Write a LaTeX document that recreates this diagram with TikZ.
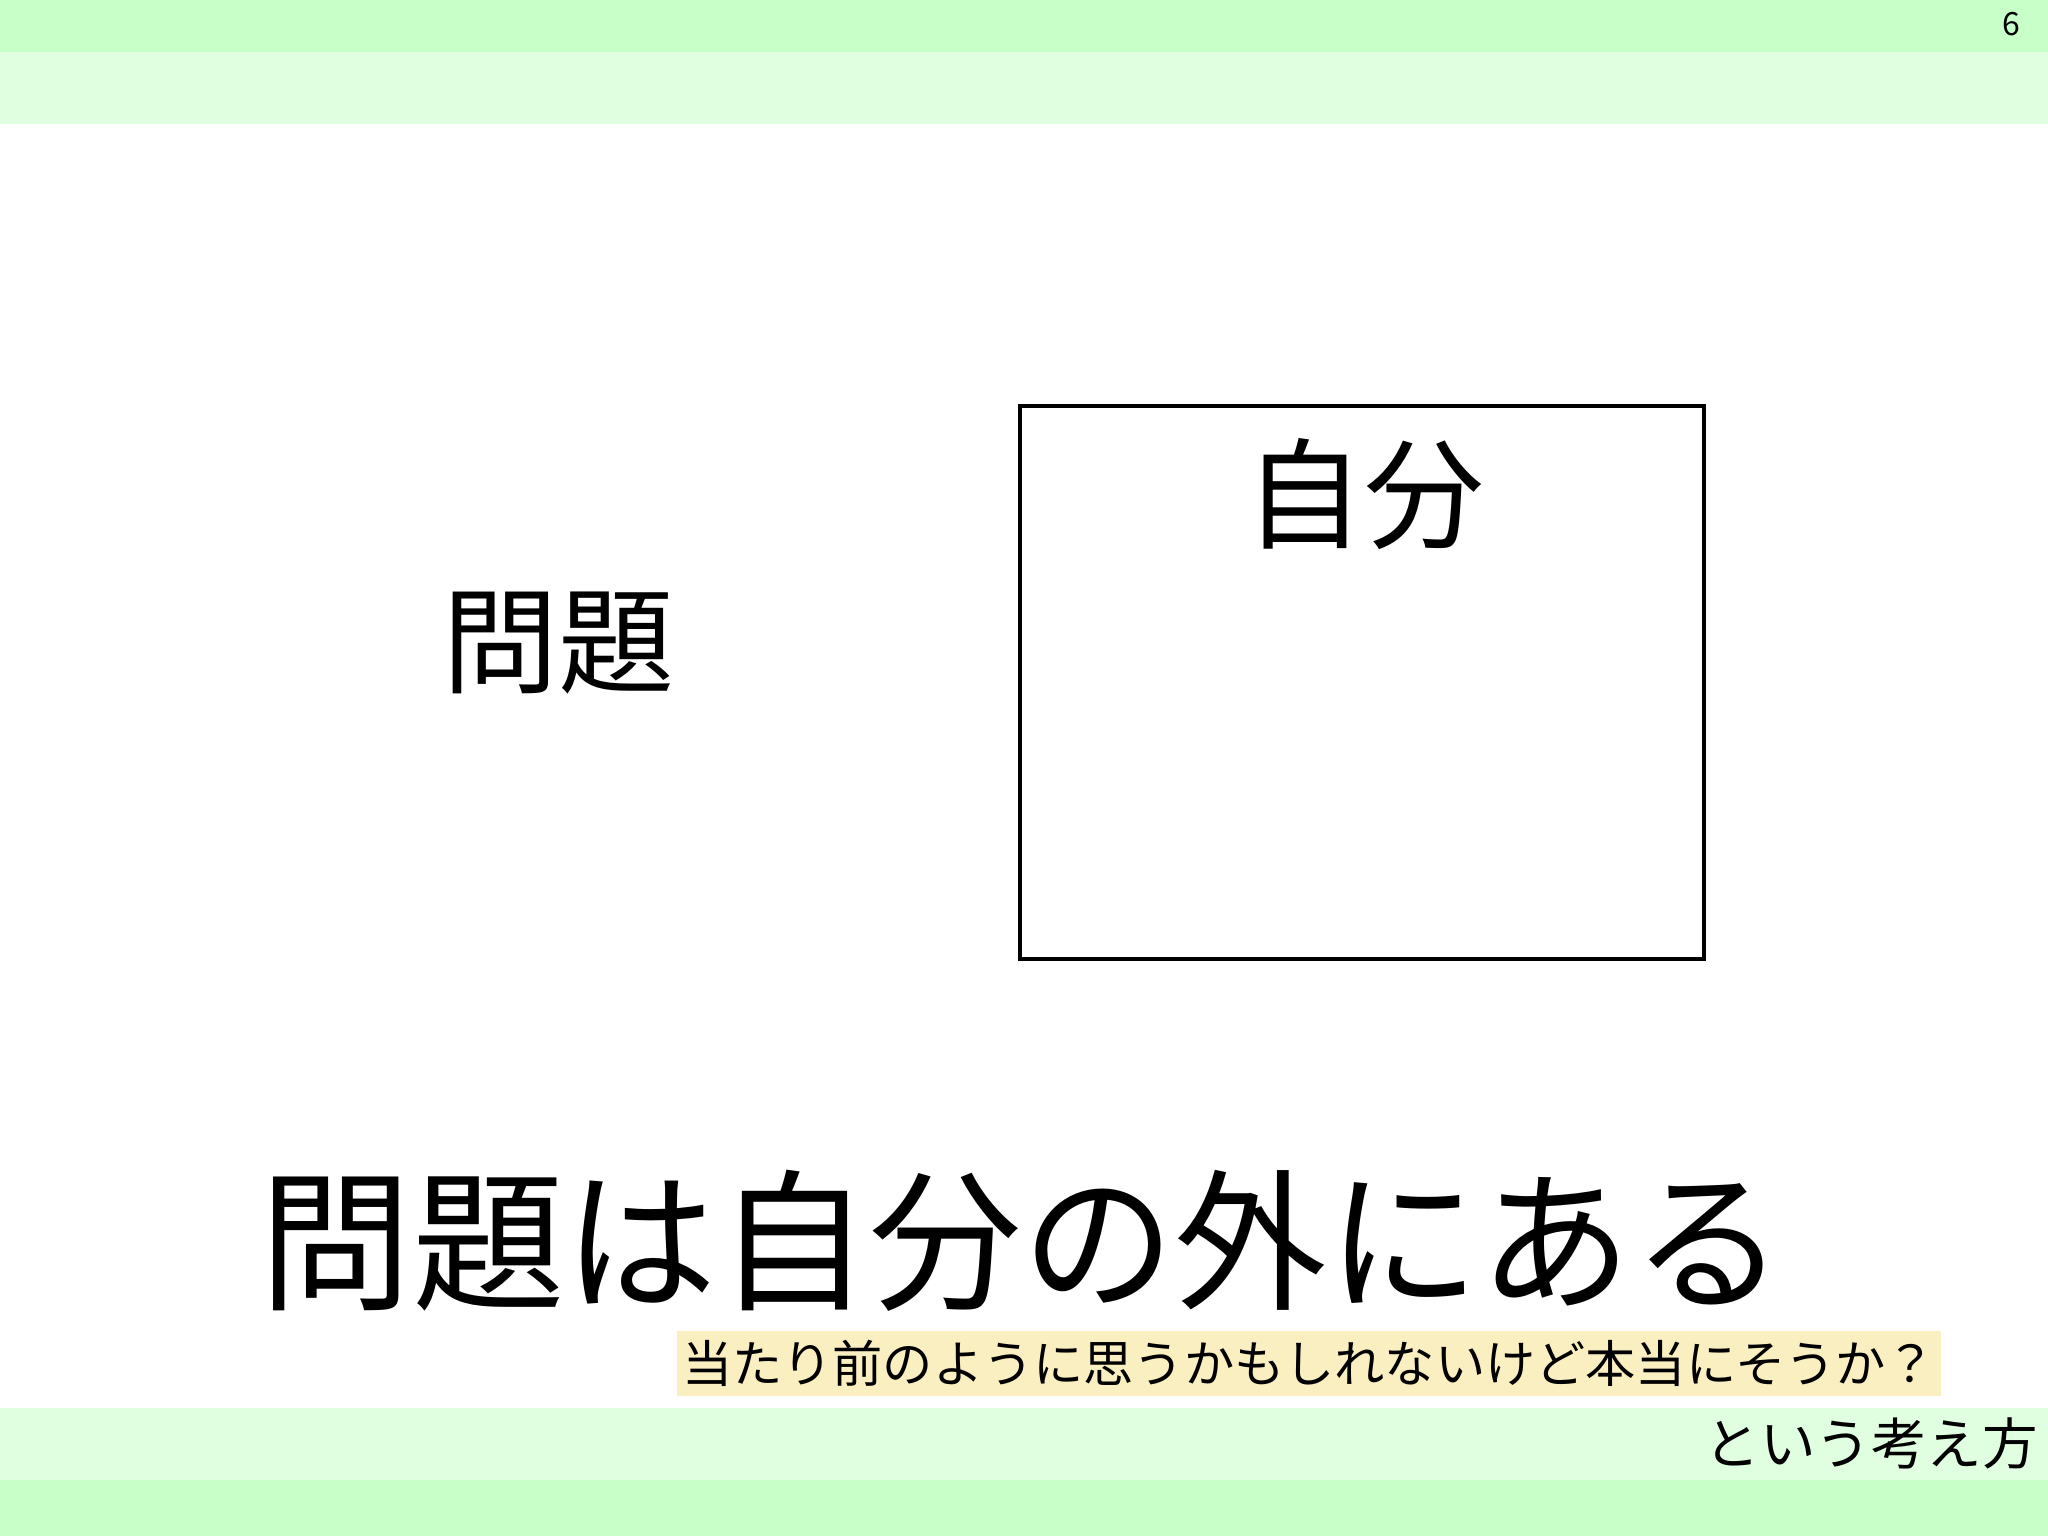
\documentclass[tikz,border=0pt]{standalone}
\usepackage{fontspec}
\setmainfont{Noto Sans CJK JP}
\definecolor{banddark}{HTML}{C8FFC8}
\definecolor{bandlight}{HTML}{E0FFE0}
\definecolor{hl}{HTML}{F9EFC0}
\begin{document}
\begin{tikzpicture}[x=1pt,y=-1pt,
  txt/.style={inner sep=0pt, anchor=center, text=black}]
\useasboundingbox (0,0) rectangle (2048,1536);
\fill[banddark] (0,0) rectangle (2048,52);
\fill[bandlight] (0,52) rectangle (2048,124);
\fill[bandlight] (0,1408) rectangle (2048,1480);
\fill[banddark] (0,1480) rectangle (2048,1536);
\node[txt, font=\fontsize{32pt}{32pt}\selectfont] (page) at (2011,24) {6};
\node[draw=black, line width=4.5pt, minimum width=684pt, minimum height=553pt, inner sep=0pt] (selfbox) at (1362,682.5) {};
\node[txt, font=\fontsize{120pt}{120pt}\selectfont] (jibun) at (1364,494) {自分};
\node[txt, font=\fontsize{116pt}{116pt}\selectfont] (mondai) at (558,643) {問題};
\node[txt, font=\fontsize{152.5pt}{152.5pt}\selectfont] (main) at (1022,1241) {問題は自分の外にある};
\node[fill=hl, minimum width=1264pt, minimum height=65pt, inner sep=0pt, font=\fontsize{50.2pt}{50.2pt}\selectfont] (note) at (1309,1363.5) {当たり前のように思うかもしれないけど本当にそうか？};
\node[txt, anchor=east, font=\fontsize{55.5pt}{55.5pt}\selectfont] (tail) at (2038,1443) {という考え方};
\end{tikzpicture}
\end{document}
